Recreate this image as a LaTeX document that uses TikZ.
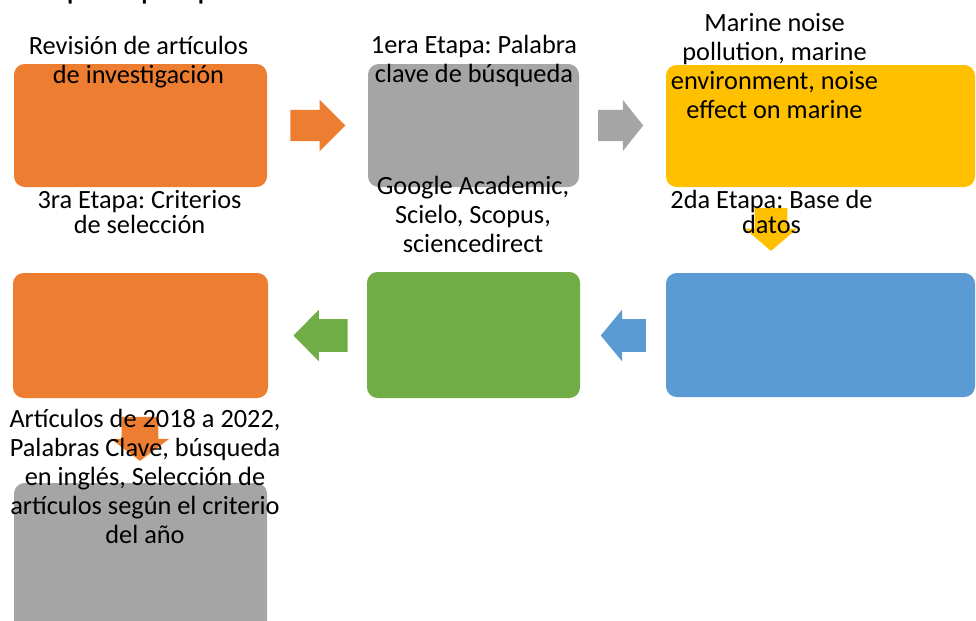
\documentclass[tikz,border=0pt]{standalone}
\usepackage{fontspec}
\setmainfont{Carlito}
\usetikzlibrary{shapes.arrows}
\frenchspacing

\definecolor{stepOrange}{HTML}{ED7D31}
\definecolor{stepGray}{HTML}{A5A5A5}
\definecolor{stepYellow}{HTML}{FFC000}
\definecolor{stepBlue}{HTML}{5B9BD5}
\definecolor{stepGreen}{HTML}{70AD47}

\begin{document}
\begin{tikzpicture}[x=0.75pt, y=-0.75pt,
    every node/.style={font=\fontsize{19.75}{21.75}\selectfont},
    box/.style={rectangle, rounded corners=8pt, inner sep=0pt},
    barrow/.style={single arrow, inner xsep=0pt, inner ysep=11.5pt, single arrow head extend=7.5pt},
    darrow/.style={single arrow, shape border rotate=270, inner ysep=0pt, inner xsep=12pt, single arrow head extend=7.5pt},
    lbl/.style={align=center, anchor=base, inner sep=0pt}]
    \useasboundingbox (0,0) rectangle (976,621);
    \clip (0,0) rectangle (976,621);

    % Title (cut off)
    \node[anchor=base west, inner sep=0pt, font=\fontsize{26}{30}\selectfont] (title) at (66,-2) {paso por paso};

    % Boxes, first row
    \node[box, fill=stepOrange, minimum width=189.75pt, minimum height=92.25pt] (rev) at (140.5,125.5) {};
    \node[box, fill=stepGray, minimum width=158.25pt, minimum height=92.25pt] (kw) at (473.5,125.5) {};
    \node[box, fill=stepYellow, minimum width=231.75pt, minimum height=91.5pt] (mar) at (820.5,126) {};

    % Boxes, second row
    \node[box, fill=stepBlue, minimum width=231.75pt, minimum height=93pt] (db) at (820.5,335) {};
    \node[box, fill=stepGreen, minimum width=159.75pt, minimum height=94.5pt] (gs) at (473.5,335) {};
    \node[box, fill=stepOrange, minimum width=191.25pt, minimum height=93.75pt] (crit) at (140.5,335.5) {};

    % Last box
    \node[box, fill=stepGray, minimum width=189.75pt, minimum height=118.5pt] (art) at (140.5,562) {};

    % Arrows
    \node[barrow, fill=stepOrange, minimum height=41.25pt] (a1) at (310,125.5) {};
    \node[barrow, fill=stepGray, minimum height=33.75pt, single arrow tip angle=103] (a2) at (614.5,125.5) {};
    \node[darrow, fill=stepYellow, minimum height=32.25pt, single arrow tip angle=99] (a3) at (771,222.5) {};
    \node[barrow, fill=stepBlue, minimum height=33.75pt, inner ysep=12pt, single arrow head extend=7.1pt, single arrow tip angle=101, shape border rotate=180] (a4) at (630,335.5) {};
    \node[barrow, fill=stepGreen, minimum height=40.5pt, inner ysep=12pt, single arrow head extend=7.1pt, single arrow tip angle=91, shape border rotate=180] (a5) at (328.5,335.5) {};
    \node[darrow, fill=stepOrange, minimum height=33pt, inner xsep=13.5pt, single arrow head extend=8.25pt, single arrow tip angle=106] (a6) at (140,432) {};

    % Texts
    \node[lbl] (lrev) at (138.5,83) {Revisión de artículos\\de investigación};
    \node[lbl] (lkw) at (474,82) {1era Etapa: Palabra\\clave de búsqueda};
    \node[lbl] (lmar) at (774.5,118) {Marine noise\\pollution, marine\\environment, noise\\effect on marine};
    \node[lbl, font=\fontsize{19.75}{18.75}\selectfont] (ldb) at (771.5,233) {2da Etapa: Base de\\datos};
    \node[lbl] (lgs) at (473,252) {Google Academic,\\Scielo, Scopus,\\sciencedirect};
    \node[lbl, font=\fontsize{19.75}{18.75}\selectfont] (lcrit) at (139.5,233) {3ra Etapa: Criterios\\de selección};
    \node[lbl] (lart) at (145,543) {Artículos de 2018 a 2022,\\Palabras Clave, búsqueda\\en inglés, Selección de\\artículos según el criterio\\del año};
\end{tikzpicture}
\end{document}
